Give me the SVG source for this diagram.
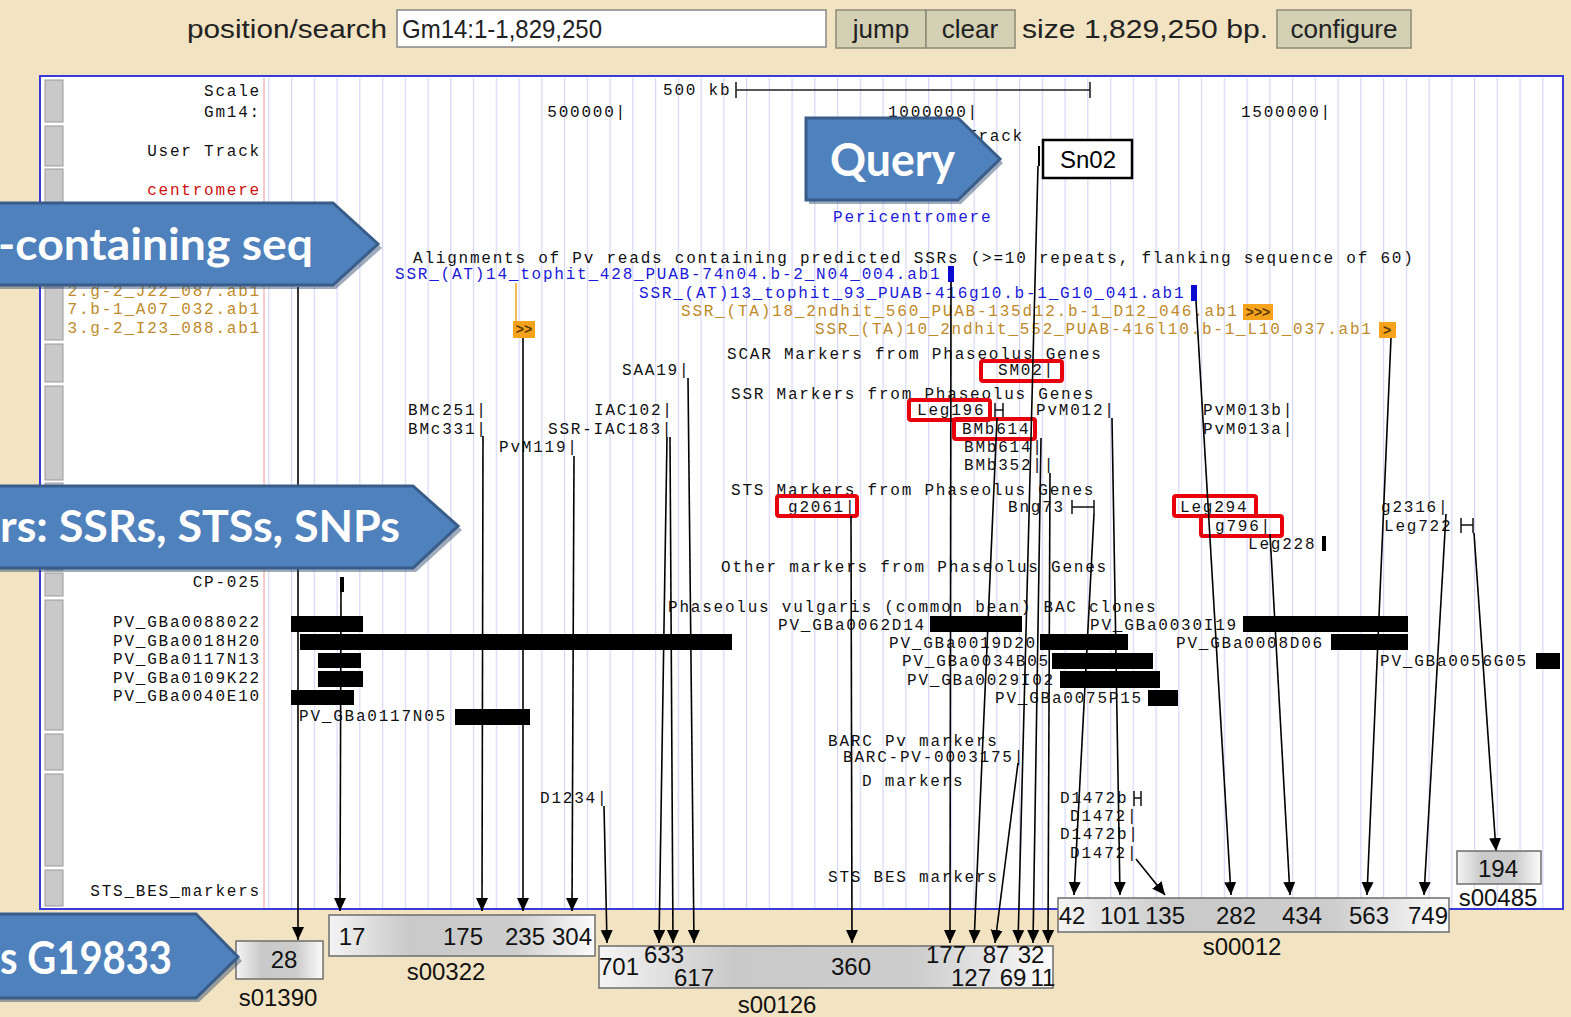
<svg xmlns="http://www.w3.org/2000/svg" width="1571" height="1017" viewBox="0 0 1571 1017">
<style>
.m{font-family:"Liberation Mono","DejaVu Sans Mono",monospace;font-size:16px;letter-spacing:1.78px;fill:#111}
.e{text-anchor:end}
.bl{fill:#1a1ad8}
.or{fill:#c08a2a}
.rd{fill:#d01010}
.tb{font-family:"Liberation Sans Narrow","Liberation Sans",sans-serif;font-size:26px;fill:#222}
.btn{fill:#d3d0b4;stroke:#8c8a78;stroke-width:1.5}
.n{font-family:"Liberation Sans",Arial,sans-serif;font-size:24px;fill:#111;text-anchor:middle}
.box{stroke:#6e6e6e;stroke-width:1.5;fill:url(#gr)}
.hl{fill:none;stroke:#e8000c;stroke-width:4}
.bar{fill:#000}
.gb{fill:#c9c9c9;stroke:#9a9a9a;stroke-width:1}
.call{fill:#4f81bd;stroke:#385d8a;stroke-width:3}
.sh{fill:#2a4468;opacity:0.45}
.ct{font-family:Lato,"Open Sans",sans-serif;font-weight:bold;fill:#fff}
.c{stroke:#000;stroke-width:1.6;fill:none;marker-end:url(#ah)}
</style>
<defs>
<marker id="ah" markerUnits="userSpaceOnUse" markerWidth="14" markerHeight="16" refX="13" refY="6" orient="auto">
<path d="M0,0 L13,6 L0,12 z" fill="#000"/>
</marker>
<linearGradient id="gr" x1="0" y1="0" x2="1" y2="0">
<stop offset="0" stop-color="#f4f4f4"/>
<stop offset="0.3" stop-color="#c9c9c9"/>
<stop offset="0.7" stop-color="#cdcdcd"/>
<stop offset="1" stop-color="#fbfbfb"/>
</linearGradient>
<pattern id="grid" x="291" y="0" width="22.75" height="20" patternUnits="userSpaceOnUse">
<rect x="0" y="0" width="1.2" height="20" fill="#d6d6f6"/>
</pattern>
</defs>

<rect width="1571" height="1017" fill="#f2e3c2"/>

<g id="toolbar">
<text class="tb" x="187" y="38" textLength="200" lengthAdjust="spacingAndGlyphs">position/search</text>
<rect x="397" y="10" width="429" height="37" fill="#fff" stroke="#888" stroke-width="1.5"/>
<text class="tb" x="402" y="38" font-size="23" textLength="200" lengthAdjust="spacingAndGlyphs">Gm14:1-1,829,250</text>
<rect class="btn" x="836" y="10" width="90" height="38"/>
<text class="tb" x="881" y="38" font-size="24" text-anchor="middle">jump</text>
<rect class="btn" x="926" y="10" width="89" height="38"/>
<text class="tb" x="970" y="38" font-size="24" text-anchor="middle">clear</text>
<text class="tb" x="1022" y="38" textLength="246" lengthAdjust="spacingAndGlyphs">size 1,829,250 bp.</text>
<rect class="btn" x="1277" y="10" width="134" height="38"/>
<text class="tb" x="1344" y="38" font-size="24" text-anchor="middle">configure</text>
</g>

<g id="panel">
<rect x="40" y="76" width="1523" height="833" fill="#fff" stroke="#3a3ad8" stroke-width="2"/>
<rect x="265" y="78" width="1296" height="830" fill="url(#grid)"/>
<line x1="264" y1="78" x2="264" y2="908" stroke="#f2a8a8" stroke-width="1.2"/>
<rect class="gb" x="45" y="80" width="18" height="42"/>
<rect class="gb" x="45" y="126" width="18" height="40"/>
<rect class="gb" x="45" y="169" width="18" height="34"/>
<rect class="gb" x="45" y="206" width="18" height="78"/>
<rect class="gb" x="45" y="287" width="18" height="53"/>
<rect class="gb" x="45" y="344" width="18" height="38"/>
<rect class="gb" x="45" y="386" width="18" height="94"/>
<rect class="gb" x="45" y="483" width="18" height="87"/>
<rect class="gb" x="45" y="573" width="18" height="23"/>
<rect class="gb" x="45" y="600" width="18" height="130"/>
<rect class="gb" x="45" y="734" width="18" height="36"/>
<rect class="gb" x="45" y="774" width="18" height="92"/>
<rect class="gb" x="45" y="870" width="18" height="36"/>
</g>

<g id="labels">
<text class="m e" x="261" y="96">Scale</text>
<text class="m e" x="261" y="117">Gm14:</text>
<text class="m e" x="261" y="156">User Track</text>
<text class="m e rd" x="261" y="195">centromere</text>
<text class="m e or" x="261" y="296">2.g-2_J22_087.ab1</text>
<text class="m e or" x="261" y="314">7.b-1_A07_032.ab1</text>
<text class="m e or" x="261" y="333">3.g-2_I23_088.ab1</text>
<text class="m e" x="261" y="587">CP-025</text>
<text class="m e" x="261" y="627">PV_GBa0088022</text>
<text class="m e" x="261" y="646">PV_GBa0018H20</text>
<text class="m e" x="261" y="664">PV_GBa0117N13</text>
<text class="m e" x="261" y="683">PV_GBa0109K22</text>
<text class="m e" x="261" y="701">PV_GBa0040E10</text>
<text class="m e" x="261" y="896">STS_BES_markers</text>
</g>

<g id="scale">
<text class="m" x="663" y="95">500 kb</text>
<path d="M736,90 H1090 M736,82 V98 M1090,82 V98" stroke="#222" stroke-width="1.6"/>
<text class="m e" x="627" y="117">500000|</text>
<text class="m e" x="979" y="117">1000000|</text>
<text class="m e" x="1332" y="117">1500000|</text>
<text class="m e" x="1024" y="141">User Track</text>
<text class="m bl" x="833" y="222">Pericentromere</text>
</g>

<g id="ssr-track">
<text class="m" x="413" y="263">Alignments of Pv reads containing predicted SSRs (&gt;=10 repeats, flanking sequence of 60)</text>
<text class="m bl" x="395" y="279">SSR_(AT)14_tophit_428_PUAB-74n04.b-2_N04_004.ab1</text>
<rect x="948" y="266" width="6" height="16" fill="#0a0ad0"/>
<text class="m bl" x="639" y="298">SSR_(AT)13_tophit_93_PUAB-416g10.b-1_G10_041.ab1</text>
<rect x="1191" y="285" width="6" height="16" fill="#0a0ad0"/>
<text class="m or" x="681" y="316">SSR_(TA)18_2ndhit_560_PUAB-135d12.b-1_D12_046.ab1</text>
<rect x="1243" y="304" width="30" height="16" fill="#f5a31c"/>
<text x="1258" y="317" font-family="Liberation Sans,sans-serif" font-size="14" font-weight="bold" fill="#5a3a00" text-anchor="middle">&gt;&gt;&gt;</text>
<text class="m or" x="815" y="334">SSR_(TA)10_2ndhit_552_PUAB-416l10.b-1_L10_037.ab1</text>
<rect x="1379" y="322" width="17" height="16" fill="#f5a31c"/>
<text x="1387" y="335" font-family="Liberation Sans,sans-serif" font-size="14" font-weight="bold" fill="#5a3a00" text-anchor="middle">&gt;</text>
<line x1="516" y1="283" x2="516" y2="321" stroke="#f5a31c" stroke-width="1.5"/>
<rect x="513" y="321" width="22" height="17" fill="#f5a31c"/>
<text x="524" y="334" font-family="Liberation Sans,sans-serif" font-size="14" font-weight="bold" fill="#5a3a00" text-anchor="middle">&gt;&gt;</text>
</g>

<g id="markers">
<text class="m" x="727" y="359">SCAR Markers from Phaseolus Genes</text>
<text class="m" x="622" y="375">SAA19|</text>
<text class="m" x="998" y="375">SM02|</text>
<text class="m" x="731" y="399">SSR Markers from Phaseolus Genes</text>
<text class="m" x="408" y="415">BMc251|</text>
<text class="m" x="408" y="434">BMc331|</text>
<text class="m" x="594" y="415">IAC102|</text>
<text class="m" x="548" y="434">SSR-IAC183|</text>
<text class="m" x="499" y="452">PvM119|</text>
<text class="m" x="917" y="415">Leg196</text>
<path d="M995,403 V417 M1003,403 V417 M995,410 H1003" stroke="#111" stroke-width="1.5"/>
<text class="m" x="1036" y="415">PvM012|</text>
<text class="m" x="962" y="434">BMb614|</text>
<text class="m" x="964" y="452">BMb614|</text>
<text class="m" x="964" y="470">BMb352||</text>
<text class="m" x="1203" y="415">PvM013b|</text>
<text class="m" x="1203" y="434">PvM013a|</text>
<text class="m" x="731" y="495">STS Markers from Phaseolus Genes</text>
<text class="m" x="788" y="512">g2061|</text>
<text class="m" x="1008" y="512">Bng73</text>
<path d="M1072,500 V514 M1094,500 V514 M1072,507 H1094" stroke="#111" stroke-width="1.5"/>
<text class="m" x="1180" y="512">Leg294</text>
<text class="m" x="1215" y="531">g796|</text>
<text class="m" x="1248" y="549">Leg228</text>
<rect x="1322" y="536" width="4" height="15" fill="#000"/>
<text class="m" x="1381" y="512">g2316|</text>
<text class="m" x="1384" y="531">Leg722</text>
<path d="M1461,518 V533 M1473,518 V533 M1461,525 H1473" stroke="#111" stroke-width="1.5"/>
<text class="m" x="721" y="572">Other markers from Phaseolus Genes</text>
<rect x="340" y="577" width="4" height="15" fill="#000"/>
</g>

<g id="bac-clones">
<text class="m" x="668" y="612">Phaseolus vulgaris (common bean) BAC clones</text>
<rect class="bar" x="291" y="616" width="72" height="16"/>
<rect class="bar" x="300" y="634" width="432" height="16"/>
<rect class="bar" x="318" y="653" width="43" height="15"/>
<rect class="bar" x="318" y="671" width="45" height="16"/>
<rect class="bar" x="291" y="690" width="63" height="15"/>
<text class="m" x="299" y="721">PV_GBa0117N05</text>
<rect class="bar" x="455" y="709" width="75" height="16"/>
<text class="m" x="778" y="630">PV_GBa0062D14</text>
<rect class="bar" x="930" y="616" width="92" height="16"/>
<text class="m" x="889" y="648">PV_GBa0019D20</text>
<rect class="bar" x="1040" y="634" width="88" height="16"/>
<text class="m" x="902" y="666">PV_GBa0034B05</text>
<rect class="bar" x="1052" y="653" width="101" height="16"/>
<text class="m" x="907" y="685">PV_GBa0029I02</text>
<rect class="bar" x="1060" y="671" width="100" height="17"/>
<text class="m" x="995" y="703">PV_GBa0075P15</text>
<rect class="bar" x="1148" y="690" width="30" height="16"/>
<text class="m" x="1090" y="630">PV_GBa0030I19</text>
<rect class="bar" x="1243" y="616" width="165" height="16"/>
<text class="m" x="1176" y="648">PV_GBa0008D06</text>
<rect class="bar" x="1331" y="634" width="77" height="16"/>
<text class="m" x="1380" y="666">PV_GBa0056G05</text>
<rect class="bar" x="1536" y="653" width="24" height="16"/>
</g>

<g id="other-tracks">
<text class="m" x="828" y="746">BARC Pv markers</text>
<text class="m" x="843" y="762">BARC-PV-0003175|</text>
<text class="m" x="862" y="786">D markers</text>
<text class="m" x="540" y="803">D1234|</text>
<text class="m" x="1060" y="803">D1472b</text>
<path d="M1134,791 V806 M1141,791 V806 M1134,798 H1141" stroke="#111" stroke-width="1.5"/>
<text class="m" x="1070" y="821">D1472|</text>
<text class="m" x="1060" y="839">D1472b|</text>
<text class="m" x="1070" y="858">D1472|</text>
<text class="m" x="828" y="882">STS BES markers</text>
</g>

<g id="user-track">
<line x1="1039" y1="146" x2="1039" y2="166" stroke="#000" stroke-width="2"/>
<rect x="1043" y="140" width="89" height="38" fill="#fff" stroke="#000" stroke-width="2.5"/>
<text x="1088" y="168" font-family="Liberation Sans,Arial,sans-serif" font-size="24" text-anchor="middle" fill="#000">Sn02</text>
</g>

<g id="highlights">
<rect class="hl" x="981" y="361" width="81" height="20" rx="2"/>
<rect class="hl" x="909" y="400" width="81" height="20" rx="2"/>
<rect class="hl" x="954" y="419" width="81" height="20" rx="2"/>
<rect class="hl" x="777" y="496" width="80" height="20" rx="2"/>
<rect class="hl" x="1174" y="496" width="82" height="20" rx="2"/>
<rect class="hl" x="1201" y="516" width="81" height="20" rx="2"/>
</g>

<g id="connectors">
<line class="c" x1="298" y1="287" x2="298" y2="940"/>
<line class="c" x1="341" y1="592" x2="340" y2="911"/>
<line class="c" x1="483" y1="436" x2="482" y2="911"/>
<line class="c" x1="523" y1="338" x2="523" y2="911"/>
<line class="c" x1="574" y1="456" x2="572" y2="911"/>
<line class="c" x1="604" y1="806" x2="607" y2="943"/>
<line class="c" x1="667" y1="437" x2="659" y2="943"/>
<line class="c" x1="670" y1="437" x2="673" y2="943"/>
<line class="c" x1="688" y1="378" x2="694" y2="943"/>
<line class="c" x1="851" y1="516" x2="852" y2="943"/>
<line class="c" x1="951" y1="282" x2="950" y2="943"/>
<line class="c" x1="997" y1="418" x2="974" y2="943"/>
<line class="c" x1="1018" y1="763" x2="995" y2="943"/>
<line class="c" x1="1038" y1="166" x2="1018" y2="943"/>
<line class="c" x1="1041" y1="438" x2="1033" y2="943"/>
<line class="c" x1="1050" y1="473" x2="1048" y2="943"/>
<line class="c" x1="1094" y1="514" x2="1074" y2="895"/>
<line class="c" x1="1112" y1="418" x2="1120" y2="895"/>
<line class="c" x1="1136" y1="859" x2="1165" y2="895"/>
<line class="c" x1="1196" y1="301" x2="1231" y2="895"/>
<line class="c" x1="1270" y1="534" x2="1290" y2="895"/>
<line class="c" x1="1391" y1="338" x2="1367" y2="895"/>
<line class="c" x1="1446" y1="514" x2="1424" y2="895"/>
<line class="c" x1="1474" y1="533" x2="1496" y2="851"/>
</g>

<g id="s01390">
<rect class="box" x="236" y="941" width="87" height="38"/>
<text class="n" x="284" y="968">28</text>
<text class="n" x="278" y="1006">s01390</text>
</g>
<g id="s00322">
<rect class="box" x="329" y="915" width="266" height="41"/>
<text class="n" x="352" y="945">17</text>
<text class="n" x="463" y="945">175</text>
<text class="n" x="525" y="945">235</text>
<text class="n" x="572" y="945">304</text>
<text class="n" x="446" y="980">s00322</text>
</g>
<g id="s00126">
<rect class="box" x="599" y="946" width="454" height="42"/>
<text class="n" x="619" y="975">701</text>
<text class="n" x="664" y="963">633</text>
<text class="n" x="694" y="986">617</text>
<text class="n" x="851" y="975">360</text>
<text class="n" x="946" y="963">177</text>
<text class="n" x="971" y="986">127</text>
<text class="n" x="996" y="963">87</text>
<text class="n" x="1013" y="986">69</text>
<text class="n" x="1031" y="963">32</text>
<text class="n" x="1043" y="986">11</text>
<text class="n" x="777" y="1013">s00126</text>
</g>
<g id="s00012">
<rect class="box" x="1058" y="898" width="391" height="34"/>
<text class="n" x="1072" y="924">42</text>
<text class="n" x="1120" y="924">101</text>
<text class="n" x="1165" y="924">135</text>
<text class="n" x="1236" y="924">282</text>
<text class="n" x="1302" y="924">434</text>
<text class="n" x="1369" y="924">563</text>
<text class="n" x="1428" y="924">749</text>
<text class="n" x="1242" y="955">s00012</text>
</g>
<g id="s00485">
<rect class="box" x="1457" y="851" width="84" height="33"/>
<text class="n" x="1498" y="877">194</text>
<text class="n" x="1498" y="906">s00485</text>
</g>

<g id="callout-ssr">
<polygon class="sh" points="-5,207 336,207 382,248 336,289 -5,289"/>
<polygon class="call" points="-5,203 333,203 378,244 333,285 -5,285"/>
<text class="ct" x="-2" y="260" font-size="44" textLength="315" lengthAdjust="spacingAndGlyphs">-containing seq</text>
</g>
<g id="callout-query">
<polygon class="sh" points="809,122 961,122 1003,163 961,204 809,204"/>
<polygon class="call" points="806,118 958,118 1000,159 958,200 806,200"/>
<text class="ct" x="830" y="176" font-size="46" textLength="125" lengthAdjust="spacingAndGlyphs">Query</text>
</g>
<g id="callout-markers">
<polygon class="sh" points="-5,490 416,490 462,530 416,572 -5,572"/>
<polygon class="call" points="-5,486 413,486 458,526 413,568 -5,568"/>
<text class="ct" x="0" y="542" font-size="44" textLength="400" lengthAdjust="spacingAndGlyphs">rs: SSRs, STSs, SNPs</text>
</g>
<g id="callout-g19833">
<polygon class="sh" points="-5,918 199,918 242,961 199,1002 -5,1002"/>
<polygon class="call" points="-5,914 196,914 238,957 196,998 -5,998"/>
<text class="ct" x="0" y="974" font-size="46" textLength="172" lengthAdjust="spacingAndGlyphs">s G19833</text>
</g>
</svg>
